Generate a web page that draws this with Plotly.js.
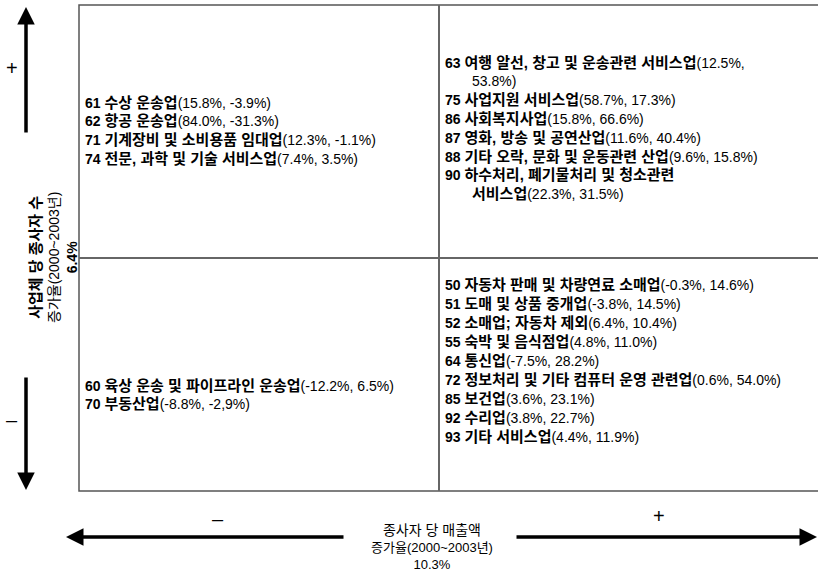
<!DOCTYPE html>
<html>
<head>
<meta charset="utf-8">
<script src="https://cdn.plot.ly/plotly-3.0.1.min.js"></script>
<style>html,body{margin:0;padding:0;background:#fff;}#chart{width:818px;height:574px;}</style>
</head>
<body>
<div id="chart"></div>
<script>
// ---- data ----
const codes = [61, 62, 71, 74, 63, 75, 86, 87, 88, 90, 60, 70, 50, 51, 52, 55, 64, 72, 85, 92, 93];
const names = [
  "수상 운송업", "항공 운송업", "기계장비 및 소비용품 임대업", "전문, 과학 및 기술 서비스업",
  "여행 알선, 창고 및 운송관련 서비스업", "사업지원 서비스업", "사회복지사업", "영화, 방송 및 공연산업",
  "기타 오락, 문화 및 운동관련 산업", "하수처리, 폐기물처리 및 청소관련|서비스업",
  "육상 운송 및 파이프라인 운송업", "부동산업",
  "자동차 판매 및 차량연료 소매업", "도매 및 상품 중개업", "소매업; 자동차 제외", "숙박 및 음식점업",
  "통신업", "정보처리 및 기타 컴퓨터 운영 관련업", "보건업", "수리업", "기타 서비스업"
];
// employees-per-business growth (vertical axis), sales-per-employee growth (horizontal axis)
const empGrowth   = [15.8, 84.0, 12.3, 7.4, 12.5, 58.7, 15.8, 11.6, 9.6, 22.3, -12.2, -8.8, -0.3, -3.8, 6.4, 4.8, -7.5, 0.6, 3.6, 3.8, 4.4];
const salesGrowth = [-3.9, -31.3, -1.1, 3.5, 53.8, 17.3, 66.6, 40.4, 15.8, 31.5, 6.5, -2.9, 14.6, 14.5, 10.4, 11.0, 28.2, 54.0, 23.1, 22.7, 11.9];
const valueLabels = [
  "(15.8%, -3.9%)", "(84.0%, -31.3%)", "(12.3%, -1.1%)", "(7.4%, 3.5%)",
  "(12.5%,|53.8%)", "(58.7%, 17.3%)", "(15.8%, 66.6%)", "(11.6%, 40.4%)", "(9.6%, 15.8%)", "(22.3%, 31.5%)",
  "(-12.2%, 6.5%)", "(-8.8%, -2,9%)",
  "(-0.3%, 14.6%)", "(-3.8%, 14.5%)", "(6.4%, 10.4%)", "(4.8%, 11.0%)", "(-7.5%, 28.2%)", "(0.6%, 54.0%)",
  "(3.6%, 23.1%)", "(3.8%, 22.7%)", "(4.4%, 11.9%)"
];
const empAvg = 6.4;     // 사업체 당 종사자 수 증가율 평균
const salesAvg = 10.3;  // 종사자 당 매출액 증가율 평균
const yTitle = ["사업체 당 종사자 수", "증가율(2000~2003년)", "6.4%"];
const xTitle = ["종사자 당 매출액", "증가율(2000~2003년)", "10.3%"];

// ---- layout helpers (pixel space) ----
const W = 818, H = 574;
const box = {l: 79, t: 5, b: 491, r: 840, mx: 439, my: 258};
const quad = {
  TL: {x: 83, y0: 102, step: 18.8},
  TR: {x: 443, y0: 62, step: 18.8},
  BL: {x: 83, y0: 385, step: 18.8},
  BR: {x: 443, y0: 284, step: 19.1}
};
const FONT = "Liberation Sans, Noto Sans CJK KR, sans-serif";
const annotations = [];
const counters = {TL: 0, TR: 0, BL: 0, BR: 0};
const kor = s => '<span style="font-size:15px">' + s + '</span>';

function itemLines(i) {
  const np = names[i].split('|');
  const vp = valueLabels[i].split('|');
  const out = [];
  for (let k = 0; k < np.length - 1; k++) out.push('<b>' + (k === 0 ? codes[i] + ' ' : '') + kor(np[k]) + '</b>');
  out.push('<b>' + (np.length === 1 ? codes[i] + ' ' : '') + kor(np[np.length - 1]) + '</b>' + vp[0]);
  for (let k = 1; k < vp.length; k++) out.push(vp[k]);
  return out;
}

codes.forEach((c, i) => {
  const q = (empGrowth[i] > empAvg ? 'T' : 'B') + (salesGrowth[i] > salesAvg ? 'R' : 'L');
  const Q = quad[q];
  itemLines(i).forEach((ln, k) => {
    annotations.push({
      x: Q.x + (k > 0 ? 27 : 0), y: Q.y0 + counters[q] * Q.step, xref: 'x', yref: 'y',
      text: ln, showarrow: false, xanchor: 'left', yanchor: 'middle', align: 'left',
      font: {family: FONT, size: 14, color: '#000'}
    });
    counters[q]++;
  });
});

// axis titles
annotations.push({
  x: 53, y: 258, xref: 'x', yref: 'y', textangle: -90, showarrow: false,
  text: '<b><span style="font-size:15px">' + yTitle[0] + '</span></b><br>' + yTitle[1] + '<br><b>' + yTitle[2] + '</b>',
  font: {family: FONT, size: 14, color: '#000'}, align: 'center'
});
annotations.push({
  x: 432, y: 547, xref: 'x', yref: 'y', showarrow: false,
  text: '<span style="font-size:14px">' + xTitle[0] + '</span><br>' + xTitle[1] + '<br>' + xTitle[2],
  font: {family: FONT, size: 13, color: '#000'}, align: 'center'
});
// signs
[[12, 68, '+'], [12, 420, '–'], [218, 519, '–'], [659, 516, '+']].forEach(s => annotations.push({
  x: s[0], y: s[1], xref: 'x', yref: 'y', text: s[2], showarrow: false,
  font: {family: FONT, size: 20, color: '#000'}
}));
// arrows
[[26, 134, 26, 7], [26, 376, 26, 490], [345, 537, 66, 537], [515, 537, 817, 537]].forEach(a => annotations.push({
  x: a[2], y: a[3], ax: a[0], ay: a[1], xref: 'x', yref: 'y', axref: 'x', ayref: 'y',
  text: '', showarrow: true, arrowhead: 2, arrowsize: 1, arrowwidth: 3.5, arrowcolor: '#000'
}));

const shapes = [
  {type: 'rect', xref: 'x', yref: 'y', x0: box.l, x1: box.r, y0: box.t, y1: box.b, line: {color: '#555', width: 1.5}},
  {type: 'line', xref: 'x', yref: 'y', x0: box.mx, x1: box.mx, y0: box.t, y1: box.b, line: {color: '#666', width: 2}},
  {type: 'line', xref: 'x', yref: 'y', x0: box.l, x1: box.r, y0: box.my, y1: box.my, line: {color: '#666', width: 2}}
];

Plotly.newPlot('chart', [{x: [], y: [], type: 'scatter', mode: 'markers', hoverinfo: 'skip'}], {
  width: W, height: H,
  margin: {l: 0, r: 0, t: 0, b: 0},
  paper_bgcolor: '#fff', plot_bgcolor: '#fff',
  showlegend: false,
  xaxis: {range: [0, W], visible: false, fixedrange: true},
  yaxis: {range: [H, 0], visible: false, fixedrange: true},
  annotations: annotations,
  shapes: shapes
}, {staticPlot: true});
</script>
</body>
</html>
